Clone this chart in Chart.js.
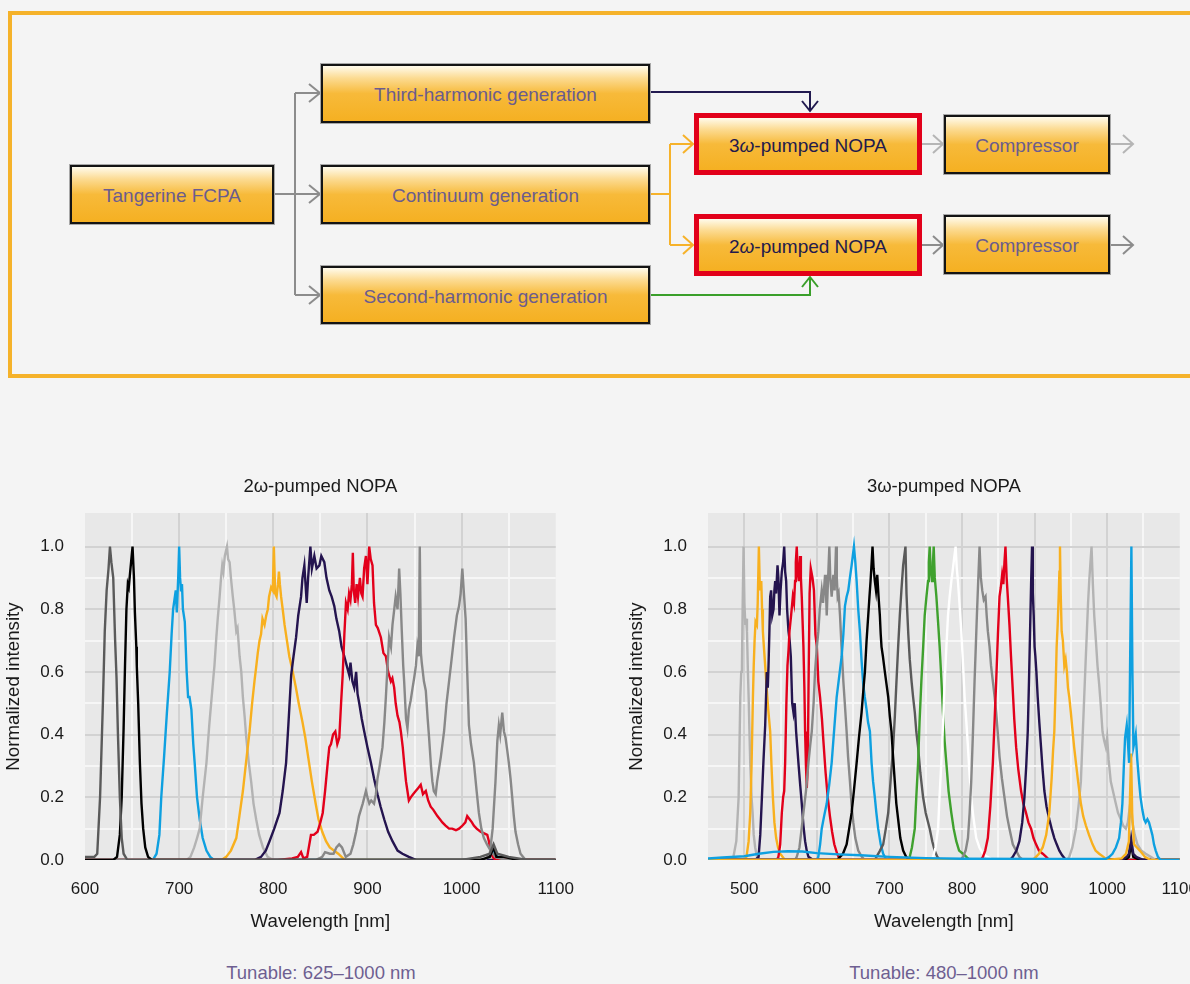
<!DOCTYPE html>
<html>
<head>
<meta charset="utf-8">
<script src="https://cdn.jsdelivr.net/npm/chart.js@4/dist/chart.umd.min.js"></script>
<style>
html, body { margin: 0; padding: 0; width: 1190px; height: 984px; overflow: hidden; background: #f4f4f4; }
body { position: relative; font-family: "Liberation Sans", Arial, sans-serif; }
#frame { position: absolute; left: 8px; top: 11px; width: 1260px; height: 367px; box-sizing: border-box; border: 4px solid #f5b22a; }
.box { position: absolute; box-sizing: border-box; border: 2px solid #141414; box-shadow: 0 0 0 1px #a8a8a8;
  background: linear-gradient(to bottom, #fffbec 0%, #fcdb92 22%, #f7ba3a 50%, #f5b022 100%);
  display: flex; align-items: center; justify-content: center; padding-top: 3px; font-size: 19px; color: #6b5c8e; }
.box.red { border: 5px solid #e2001a; box-shadow: none; color: #231a4d; }
#diagram { position: absolute; left: 0; top: 0; }
canvas { position: absolute; }
.tunable { position: absolute; top: 962px; width: 300px; text-align: center; font-size: 18.5px; color: #6e5f91; }
</style>
</head>
<body>
<div id="frame"></div>
<svg id="diagram" width="1190" height="400">
  <g fill="none" stroke-width="2">
    <g stroke="#8c8c8c">
      <polyline points="274,194 295,194"/>
      <polyline points="295,93 295,295"/>
      <polyline points="295,93 320,93"/><polyline points="309,84 320,93 309,102"/>
      <polyline points="295,194 320,194"/><polyline points="309,185 320,194 309,203"/>
      <polyline points="295,295 320,295"/><polyline points="309,286 320,295 309,304"/>
      <polyline points="922,245 943,245"/><polyline points="933,236 943,245 933,254"/>
      <polyline points="1110,245 1133,245"/><polyline points="1123,236 1133,245 1123,254"/>
    </g>
    <g stroke="#b5b5b5">
      <polyline points="922,144 943,144"/><polyline points="933,135 943,144 933,153"/>
      <polyline points="1110,144 1133,144"/><polyline points="1123,135 1133,144 1123,153"/>
    </g>
    <g stroke="#221a50">
      <polyline points="650,92 810,92 810,111"/><polyline points="802,101 810,111 818,101"/>
    </g>
    <g stroke="#f6b22a">
      <polyline points="650,194 670,194"/>
      <polyline points="670,144 670,245"/>
      <polyline points="670,144 693,144"/><polyline points="683,135 693,144 683,153"/>
      <polyline points="670,245 693,245"/><polyline points="683,236 693,245 683,254"/>
    </g>
    <g stroke="#3a9f2a">
      <polyline points="650,295 810,295 810,277"/><polyline points="802,287 810,277 818,287"/>
    </g>
  </g>
</svg>
<div class="box" style="left:70px;top:165px;width:204px;height:59px;">Tangerine FCPA</div>
<div class="box" style="left:321px;top:64px;width:329px;height:59px;">Third-harmonic generation</div>
<div class="box" style="left:321px;top:165px;width:329px;height:59px;">Continuum generation</div>
<div class="box" style="left:321px;top:266px;width:329px;height:58px;">Second-harmonic generation</div>
<div class="box red" style="left:694px;top:113px;width:228px;height:62px;">3<i>ω</i>-pumped NOPA</div>
<div class="box red" style="left:694px;top:214px;width:228px;height:62px;">2<i>ω</i>-pumped NOPA</div>
<div class="box" style="left:944px;top:115px;width:166px;height:59px;">Compressor</div>
<div class="box" style="left:944px;top:215px;width:166px;height:59px;">Compressor</div>

<canvas id="chart2w" width="593" height="470" style="left:0px;top:470px;"></canvas>
<canvas id="chart3w" width="594" height="470" style="left:623px;top:470px;"></canvas>
<div class="tunable" style="left:171px;">Tunable: 625–1000 nm</div>
<div class="tunable" style="left:794px;">Tunable: 480–1000 nm</div>

<script>
// 2w-pumped NOPA spectra, [wavelength nm, normalized intensity]
const s2w_626 = [[600,0.01],[610,0.01],[613,0.02],[616,0.2],[619,0.5],[621,0.73],[623,0.86],[625,0.93],[626.5,1.0],[628,0.95],[630,0.9],[632,0.7],[633.5,0.58],[635,0.4],[637,0.2],[639,0.07],[641,0.02],[645,0],[1000,0],[1020,0.01],[1030,0.02],[1034,0.05],[1038,0.02],[1050,0.01],[1070,0],[1100,0]];
const s2w_650 = [[600,0],[630,0],[634,0.01],[637,0.08],[639,0.2],[641,0.42],[642.5,0.62],[644,0.8],[645.5,0.88],[646.5,0.87],[648,0.92],[650.5,1.0],[652,0.9],[653,0.79],[654.5,0.68],[655,0.62],[656.5,0.5],[658.3,0.31],[660,0.18],[661.8,0.1],[664,0.04],[667,0.01],[671,0],[1020,0],[1030,0.01],[1034,0.04],[1037,0.01],[1045,0.01],[1060,0],[1100,0]];
const s2w_700 = [[600,0],[672,0],[676,0.02],[679,0.08],[681,0.2],[684,0.33],[687,0.47],[690,0.6],[692,0.72],[693.6,0.8],[695,0.83],[696.4,0.86],[697.5,0.79],[699,0.9],[700,1.0],[701,0.9],[702,0.86],[703,0.88],[704,0.8],[706,0.76],[708,0.6],[709.5,0.52],[711,0.52],[713,0.48],[715,0.37],[716.5,0.31],[719,0.2],[721.8,0.13],[725,0.07],[729,0.03],[733,0.01],[737,0],[1025,0],[1030,0.01],[1034,0.03],[1038,0.01],[1045,0],[1100,0]];
const s2w_750 = [[600,0],[708,0],[712,0.01],[716,0.04],[719,0.07],[721.8,0.1],[725,0.2],[729,0.31],[732,0.43],[736,0.57],[737.5,0.62],[739.5,0.71],[741,0.77],[743,0.84],[744.5,0.9],[745.8,0.94],[747,0.92],[748.5,0.97],[750.8,1.0],[752,0.96],[753.6,0.95],[755,0.9],[757,0.84],[758.5,0.8],[760.7,0.73],[762,0.74],[764.2,0.65],[766,0.6],[767.7,0.52],[769.5,0.46],[771.3,0.39],[774,0.31],[776.5,0.25],[779,0.18],[781.8,0.13],[785,0.08],[789,0.04],[794,0.01],[800,0],[1100,0]];
const s2w_800 = [[600,0],[745,0],[750,0.01],[755,0.03],[760.7,0.07],[764,0.14],[767.7,0.22],[771,0.31],[774.8,0.41],[777.5,0.5],[780,0.57],[782,0.62],[783.5,0.66],[785.4,0.7],[787,0.72],[788.5,0.77],[790.7,0.75],[792.5,0.78],[794.2,0.8],[795.5,0.84],[797.7,0.87],[799.5,0.86],[800.6,1.0],[802,0.85],[803.5,0.84],[805,0.88],[806,0.92],[807,0.88],[808.3,0.84],[810,0.8],[812,0.75],[814.5,0.7],[817,0.65],[820,0.61],[824,0.55],[827,0.5],[831,0.44],[834,0.39],[837,0.33],[841,0.25],[845,0.18],[848,0.13],[852,0.09],[856,0.06],[860,0.04],[869,0.02],[876,0],[1100,0]];
const s2w_840 = [[600,0],[780,0],[787,0.01],[792,0.03],[796,0.06],[801,0.1],[806.6,0.15],[810,0.22],[813.6,0.31],[816,0.43],[819,0.59],[821.5,0.65],[824.2,0.71],[826.5,0.78],[829.5,0.84],[831,0.9],[833,0.94],[835.5,0.82],[837,0.9],[839.4,1.0],[841,0.93],[843.6,0.97],[846,0.93],[849,0.94],[851,0.97],[854.2,0.95],[856.5,0.9],[859.5,0.86],[862,0.84],[864.8,0.81],[867,0.77],[870,0.73],[872.5,0.68],[875.4,0.65],[878,0.62],[880.7,0.59],[882,0.63],[884,0.57],[886,0.55],[888,0.6],[889.5,0.53],[891.3,0.5],[894,0.45],[896.6,0.41],[900,0.36],[903.7,0.31],[907,0.26],[910.7,0.21],[914,0.17],[917.8,0.13],[922,0.09],[926.6,0.06],[932,0.03],[937.2,0.02],[944,0.01],[952,0],[1100,0]];
const s2w_900 = [[600,0],[805,0],[820,0.005],[826,0.01],[829.5,0.025],[832,0.005],[836,0.01],[840,0.08],[843,0.08],[847,0.09],[850,0.12],[852.5,0.15],[855,0.22],[857.8,0.31],[859.5,0.36],[861.3,0.37],[863.5,0.4],[865.9,0.41],[868,0.37],[870.1,0.39],[872,0.5],[873.7,0.59],[875.5,0.72],[877.2,0.82],[879,0.8],[880.5,0.85],[882,0.83],[883.5,0.88],[884.5,0.98],[885.5,0.86],[887,0.82],[888.5,0.88],[890,0.84],[892,0.9],[893.5,0.85],[894.8,0.84],[896.5,0.93],[898.4,0.97],[900,0.88],[901.9,1.0],[903.5,0.96],[905.4,0.94],[907,0.82],[909,0.75],[911,0.74],[914.3,0.71],[917,0.66],[919.6,0.65],[922,0.6],[924.9,0.57],[926.5,0.58],[928.4,0.55],[930,0.5],[932,0.46],[934,0.44],[935.5,0.41],[937.5,0.36],[939,0.31],[941,0.25],[942.5,0.22],[944,0.19],[946,0.2],[948.5,0.21],[951.3,0.22],[954,0.23],[956.6,0.24],[959,0.21],[962,0.22],[964.5,0.19],[967.2,0.17],[970,0.16],[974.3,0.14],[977,0.13],[979.6,0.12],[983,0.11],[986.7,0.1],[990,0.1],[994,0.095],[997.3,0.1],[1001,0.11],[1004,0.12],[1006,0.14],[1008.5,0.13],[1011,0.12],[1013,0.11],[1016,0.1],[1020.2,0.09],[1024,0.085],[1027.3,0.08],[1029,0.06],[1030.8,0.03],[1033,0.01],[1036,0],[1100,0]];
const s2w_955 = [[600,0],[845,0],[852,0.01],[855,0.025],[860,0.02],[864,0.02],[867,0.04],[870,0.05],[873,0.04],[877,0.01],[882,0.02],[885,0.05],[888,0.09],[891,0.14],[895,0.18],[898.4,0.22],[900,0.2],[902,0.18],[904,0.19],[907,0.18],[909,0.21],[910.7,0.26],[913,0.3],[916,0.36],[918,0.44],[919.6,0.52],[921,0.6],[923,0.71],[925,0.68],[926.6,0.75],[928.5,0.8],[930,0.84],[932,0.8],[933.7,0.93],[935,0.85],[936.5,0.73],[938,0.62],[939,0.57],[941,0.45],[942.5,0.42],[944,0.48],[946,0.51],[948,0.55],[949.6,0.58],[951.5,0.62],[953,0.68],[954.5,0.65],[955.6,1.0],[956.8,0.66],[957.7,0.63],[960,0.57],[962,0.54],[964,0.45],[965.5,0.39],[967.5,0.3],[969,0.25],[970.5,0.22],[972.5,0.21],[974,0.25],[976,0.29],[978,0.33],[981.4,0.41],[984,0.5],[986.7,0.57],[989,0.63],[992,0.71],[995,0.78],[997.3,0.81],[999,0.85],[1000.8,0.93],[1002.5,0.85],[1004.3,0.77],[1006,0.6],[1007.8,0.43],[1010,0.37],[1013.1,0.31],[1016,0.22],[1018.4,0.15],[1021,0.1],[1023.7,0.07],[1027,0.05],[1030.8,0.03],[1036,0.01],[1046,0],[1100,0]];
const s2w_1043 = [[600,0],[1025,0],[1030,0.02],[1033,0.1],[1036,0.25],[1038,0.38],[1039.6,0.43],[1041,0.4],[1043.2,0.47],[1045,0.41],[1046.7,0.39],[1048.5,0.35],[1050.2,0.31],[1052,0.26],[1053.8,0.2],[1055.5,0.14],[1057.3,0.09],[1060,0.05],[1062.6,0.02],[1068,0],[1100,0]];

// 3w-pumped NOPA spectra
const s3w_499 = [[450,0],[480,0],[485,0.01],[489,0.06],[492.2,0.2],[493.5,0.38],[494.5,0.52],[495.8,0.6],[496.8,0.62],[497.8,0.82],[499,1.0],[500.2,0.82],[501.4,0.75],[502.5,0.77],[503.7,0.73],[505,0.6],[506,0.52],[507,0.42],[508.2,0.31],[510,0.2],[511.5,0.15],[513,0.08],[515,0.04],[517,0.015],[520,0],[1100,0]];
const s3w_520 = [[450,0],[500,0],[503,0.01],[506,0.06],[508.2,0.15],[510,0.3],[511.9,0.52],[513,0.62],[514.2,0.7],[515.5,0.76],[517.4,0.75],[518.5,0.82],[520.1,1.0],[521.5,0.86],[523.4,0.89],[524.5,0.8],[525.6,0.73],[527,0.68],[528.8,0.62],[531.1,0.54],[533,0.48],[535.7,0.41],[537.5,0.3],[539.4,0.2],[541.5,0.12],[543.9,0.07],[546.5,0.04],[549.5,0.02],[556,0],[1100,0]];
const s3w_555 = [[450,0],[515,0],[519.7,0.01],[522,0.08],[524.3,0.2],[526.5,0.32],[528.8,0.43],[531,0.6],[532.4,0.55],[533.4,0.62],[534.5,0.72],[535.7,0.84],[537,0.86],[538.5,0.78],[540.3,0.8],[541.5,0.86],[542.6,0.89],[543.8,0.85],[545.8,0.94],[547,0.9],[548.5,0.78],[550,0.86],[551.7,0.92],[553.5,0.95],[555,1.0],[556.3,0.92],[557.7,0.89],[559,0.8],[560.9,0.73],[562.5,0.7],[564.1,0.65],[566,0.5],[567.8,0.47],[569.5,0.5],[571.4,0.41],[573,0.36],[574.6,0.31],[577,0.24],[579.2,0.18],[581.5,0.11],[583.8,0.06],[586,0.03],[588.4,0.01],[595,0],[1100,0]];
const s3w_572 = [[450,0],[545,0],[547,0.01],[549.5,0.05],[551.7,0.15],[553.5,0.2],[555,0.22],[556.3,0.31],[558,0.5],[559.5,0.62],[561,0.67],[562.3,0.73],[564.5,0.78],[566.9,0.84],[568.5,0.82],[570,0.89],[571,0.95],[572.3,1.0],[573.5,0.92],[575.1,0.89],[576.9,0.97],[578,0.9],[579.2,0.84],[580.5,0.75],[581.5,0.68],[582.8,0.55],[583.8,0.41],[585,0.3],[586.1,0.23],[587.5,0.3],[588.5,0.55],[590,0.85],[591.6,0.93],[594,0.9],[596,0.86],[598,0.72],[600,0.68],[602,0.57],[604.4,0.52],[607,0.45],[609,0.38],[612,0.28],[615,0.2],[618,0.14],[621,0.09],[624,0.05],[628,0.02],[632,0],[1100,0]];
const s3w_625 = [[450,0],[570,0],[572.3,0.01],[576,0.04],[579,0.1],[581.5,0.15],[585,0.22],[588.4,0.31],[591,0.37],[593,0.41],[595.5,0.5],[597.5,0.6],[600,0.68],[602.1,0.73],[604,0.8],[606.7,0.86],[608.5,0.82],[611.3,0.91],[612.5,0.86],[613.6,0.78],[615.5,0.9],[617.2,1.0],[618.5,0.9],[620.4,0.84],[622.7,0.91],[624.5,0.86],[626.4,1.0],[627.5,0.9],[628.7,0.84],[630,0.85],[631.9,0.78],[634,0.68],[636.5,0.57],[638.5,0.5],[641,0.41],[643,0.33],[645.6,0.25],[648,0.17],[650.2,0.12],[653,0.07],[657,0.03],[662,0.01],[666,0],[1100,0]];
const s3w_651 = [[450,0],[600,0],[602,0.01],[604.5,0.05],[606.7,0.1],[610,0.14],[613.6,0.18],[617,0.24],[620.4,0.31],[624,0.42],[627.3,0.52],[630.5,0.58],[634.2,0.65],[636.5,0.72],[638.7,0.81],[641,0.84],[643.3,0.86],[645.5,0.9],[647.9,0.94],[649.5,0.97],[651.1,1.0],[653,0.95],[654.8,0.89],[657,0.8],[659.3,0.73],[661.5,0.64],[663.9,0.56],[666,0.52],[668.5,0.48],[670.5,0.44],[673.1,0.41],[675.4,0.31],[677.5,0.25],[679.9,0.2],[682,0.15],[684.5,0.1],[688,0.05],[691.4,0.02],[696,0],[1100,0]];
const s3w_677 = [[450,0],[628,0],[631.9,0.01],[636,0.02],[641,0.05],[644.5,0.1],[647.9,0.15],[651,0.22],[654.8,0.31],[658,0.39],[661.6,0.47],[664,0.54],[666.2,0.6],[668.5,0.7],[670.8,0.78],[672.5,0.84],[674,0.89],[675.5,0.95],[676.7,1.0],[678.2,0.93],[679.9,0.89],[681.5,0.86],[683.2,0.91],[685,0.84],[686.8,0.78],[688,0.72],[689.1,0.68],[691,0.65],[693.7,0.6],[696,0.56],[698.3,0.52],[700.5,0.46],[702.8,0.41],[705,0.33],[707.4,0.25],[709.5,0.18],[712,0.13],[715,0.07],[718.9,0.03],[723,0.01],[728,0],[1025,0],[1030,0.01],[1033,0.05],[1036,0.01],[1045,0],[1100,0]];
const s3w_722 = [[450,0],[680,0],[682.2,0.01],[687,0.03],[691.4,0.05],[695,0.1],[698.3,0.15],[701.5,0.25],[705.1,0.36],[707.5,0.46],[709.7,0.57],[712,0.68],[714.3,0.78],[716.5,0.86],[718.9,0.94],[720.5,0.97],[722.1,1.0],[723.5,0.85],[724.4,0.8],[726,0.72],[728,0.64],[730.5,0.57],[732.6,0.52],[735,0.47],[737,0.41],[739.5,0.36],[742.5,0.28],[746.4,0.2],[750,0.15],[755.5,0.1],[759,0.06],[762.4,0.03],[766,0.01],[770,0],[1100,0]];
const s3w_758 = [[450,0],[725,0],[728,0.01],[731,0.04],[734.9,0.1],[737,0.2],[739.5,0.31],[741.5,0.44],[744,0.57],[746.5,0.68],[748.6,0.78],[751,0.84],[753.2,0.89],[754.3,0.95],[755.5,1.0],[757,0.92],[758.7,0.89],[760,0.95],[761,1.0],[762.5,0.9],[764.7,0.84],[767,0.76],[769.2,0.68],[771.5,0.58],[773.8,0.47],[776,0.38],[778.4,0.31],[781.5,0.22],[785.3,0.15],[788.5,0.1],[792.1,0.06],[796,0.03],[801.3,0.02],[806,0.01],[810.5,0],[1100,0]];
const s3w_791 = [[450,0],[757,0],[760.1,0.01],[763.5,0.04],[767,0.1],[769,0.2],[771.5,0.31],[774,0.44],[776.1,0.57],[778.5,0.68],[780.7,0.78],[783,0.84],[785.3,0.89],[787,0.92],[789,0.96],[791.2,1.0],[792.8,0.93],[794.4,0.89],[796.5,0.82],[799,0.73],[801.5,0.62],[803.6,0.52],[806,0.44],[808.2,0.36],[810.5,0.27],[812.7,0.2],[815.5,0.14],[819.6,0.07],[824,0.04],[828.8,0.02],[835,0.01],[842.5,0],[1100,0]];
const s3w_824 = [[450,0],[798,0],[801.3,0.01],[805,0.03],[808.2,0.07],[810.5,0.15],[812.7,0.25],[815,0.4],[817.3,0.57],[819,0.68],[820.5,0.78],[822.5,0.9],[824.2,1.0],[826,0.9],[827.9,0.86],[830,0.83],[832.4,0.84],[834,0.78],[835.6,0.73],[838,0.68],[840,0.62],[842.5,0.57],[845,0.52],[847.1,0.47],[849.5,0.4],[851.7,0.33],[855,0.26],[858.5,0.2],[862,0.14],[865.4,0.1],[870,0.05],[874.6,0.03],[879,0.01],[884,0],[1100,0]];
const s3w_860 = [[450,0],[826,0],[828.8,0.01],[832,0.03],[835.6,0.07],[839,0.17],[842.5,0.31],[845,0.45],[847.1,0.57],[849.5,0.72],[851.7,0.84],[853.5,0.87],[855.3,0.91],[857,0.88],[858.5,0.95],[859.9,1.0],[861.5,0.9],[863.1,0.84],[865.4,0.75],[867.5,0.65],[870,0.54],[872,0.45],[874.6,0.36],[877.5,0.29],[881.4,0.22],[884.5,0.18],[888.3,0.15],[891.5,0.12],[895.2,0.1],[898.5,0.07],[902,0.05],[906,0.03],[911.2,0.02],[916,0.01],[920.3,0],[1100,0]];
const s3w_897 = [[450,0],[866,0],[870,0.01],[875,0.03],[879.1,0.06],[883,0.12],[886,0.2],[888.5,0.3],[890.6,0.41],[892.3,0.57],[893.8,0.73],[895.2,0.88],[896.5,1.0],[897.6,0.85],[898.8,0.78],[900,0.68],[901.1,0.65],[902.5,0.6],[904.3,0.52],[906.5,0.44],[908.9,0.36],[911,0.29],[913.5,0.22],[916.5,0.17],[920.3,0.13],[923.5,0.1],[927.2,0.07],[930.5,0.05],[934.1,0.03],[938,0.015],[943.2,0],[1020,0],[1027,0.01],[1030,0.02],[1033,0.07],[1036,0.02],[1040,0.01],[1050,0],[1100,0]];
const s3w_935 = [[450,0],[895,0],[900,0.005],[906,0.02],[911.2,0.04],[916,0.08],[920.3,0.15],[923.5,0.26],[925.5,0.35],[927.2,0.41],[929,0.55],[930.4,0.68],[931.8,0.75],[933.2,0.84],[934.2,0.92],[935,1.0],[936,0.85],[937.3,0.73],[939,0.7],[941,0.62],[942.8,0.64],[944.6,0.6],[946,0.55],[947.8,0.52],[950,0.47],[952.4,0.41],[954.5,0.36],[957,0.31],[960,0.25],[963.8,0.18],[967,0.14],[970.7,0.11],[975,0.08],[979.9,0.05],[984,0.03],[989,0.02],[995,0.01],[1000,0],[1020,0.005],[1026,0.02],[1030,0.06],[1033,0.34],[1034.5,0.15],[1037,0.05],[1041,0.04],[1045,0.03],[1052,0.01],[1060,0],[1100,0]];
const s3w_978 = [[450,0],[945,0],[947.8,0.01],[952,0.04],[957,0.1],[960.5,0.17],[963.8,0.25],[966,0.38],[968.4,0.52],[970.3,0.63],[972.1,0.73],[973.7,0.82],[975.3,0.89],[977,0.95],[978.5,1.0],[980.3,0.88],[982.2,0.78],[984.5,0.7],[986.7,0.62],[989,0.56],[991,0.5],[993.6,0.41],[996,0.38],[998.2,0.36],[1000,0.39],[1002,0.32],[1005,0.25],[1008,0.22],[1011.9,0.18],[1015,0.15],[1018.8,0.13],[1022,0.11],[1025.7,0.1],[1028.5,0.12],[1031.2,0.17],[1033,0.14],[1034.8,0.12],[1038,0.08],[1041.7,0.05],[1047,0.03],[1053.1,0.02],[1060,0.01],[1067,0],[1100,0]];
const s3w_1033 = [[450,0.005],[470,0.008],[500,0.012],[520,0.02],[540,0.026],[560,0.028],[580,0.027],[600,0.022],[630,0.018],[660,0.015],[700,0.01],[750,0.006],[800,0.004],[900,0.003],[998,0.003],[1003,0.01],[1007.3,0.02],[1012,0.04],[1016.5,0.07],[1019,0.12],[1021,0.18],[1023,0.3],[1024.7,0.39],[1027,0.43],[1028.5,0.38],[1030.2,0.31],[1031.5,0.6],[1033.4,1.0],[1034.8,0.6],[1036.2,0.36],[1038,0.38],[1039.4,0.4],[1041.5,0.32],[1044,0.25],[1046,0.2],[1048.5,0.16],[1051,0.13],[1053.1,0.12],[1055.5,0.13],[1057.7,0.12],[1060,0.1],[1062.3,0.08],[1064.5,0.05],[1066.9,0.03],[1070,0.01],[1073.7,0],[1100,0]];

const yMax = 1.107;
const range2w = [600, 1100];
const range3w = [450, 1100];

const DARK = '#5a5a5a', BLACK = '#000000', BLUE = '#0ea0e0', LIGHT = '#b3b3b3', ORANGE = '#f8b01e',
      NAVY = '#24144f', RED = '#e3001b', GREY = '#888888', GREEN = '#3fa12e', WHITE = '#ffffff';

// first entry is drawn on top
const series2w = [
  [s2w_626, DARK], [s2w_650, BLACK], [s2w_1043, GREY], [s2w_955, GREY], [s2w_900, RED],
  [s2w_840, NAVY], [s2w_800, ORANGE], [s2w_750, LIGHT], [s2w_700, BLUE]
];
const series3w = [
  [s3w_1033, BLUE], [s3w_935, ORANGE], [s3w_978, LIGHT], [s3w_897, NAVY], [s3w_677, BLACK],
  [s3w_860, RED], [s3w_824, GREY], [s3w_791, WHITE], [s3w_758, GREEN], [s3w_722, DARK],
  [s3w_651, BLUE], [s3w_625, GREY], [s3w_572, RED], [s3w_555, NAVY], [s3w_520, ORANGE], [s3w_499, LIGHT]
];

Chart.defaults.font.family = '"Liberation Sans", Arial, Helvetica, sans-serif';
Chart.defaults.color = '#1a1a1a';

const plotBg = {
  id: 'plotBg',
  beforeDraw(chart) {
    const a = chart.chartArea, ctx = chart.ctx;
    ctx.save();
    ctx.fillStyle = '#e8e8e8';
    ctx.fillRect(a.left, a.top, a.right - a.left, a.bottom - a.top);
    ctx.restore();
  }
};

function makeChart(id, title, series, range) {
  const datasets = series.map(function (s) {
    return {
      data: s[0].map(p => ({ x: p[0], y: p[1] })),
      borderColor: s[1],
      borderWidth: 2.4,
      pointRadius: 0,
      tension: 0,
      fill: false
    };
  });
  return new Chart(document.getElementById(id), {
    type: 'line',
    data: { datasets: datasets },
    plugins: [plotBg],
    options: {
      responsive: false,
      animation: false,
      devicePixelRatio: 1,
      layout: { padding: { left: 0, right: 33, top: 0, bottom: 0 } },
      plugins: {
        legend: { display: false },
        tooltip: { enabled: false },
        title: {
          display: true,
          fullSize: false,
          text: title,
          font: { size: 18.5, weight: 'normal' },
          color: '#1a1a1a',
          padding: { top: 5.9, bottom: 14.9 }
        }
      },
      scales: {
        x: {
          type: 'linear',
          min: range[0],
          max: range[1],
          afterFit: function (scale) { scale.height = 80; },
          border: { display: false },
          grid: {
            drawTicks: false,
            lineWidth: 2,
            color: function (ctx) {
              const v = ctx.tick.value;
              if (v === range[0] || v === range[1]) return 'rgba(0,0,0,0)';
              return v % 100 === 0 ? '#d2d2d2' : '#f6f6f6';
            }
          },
          ticks: {
            stepSize: 50,
            autoSkip: false,
            maxRotation: 0,
            padding: 19,
            font: { size: 17 },
            color: '#1a1a1a',
            callback: function (v) { return v % 100 === 0 ? String(v) : ''; }
          },
          title: {
            display: true,
            text: 'Wavelength [nm]',
            font: { size: 18.7 },
            color: '#1a1a1a',
            padding: { top: 0, bottom: 6.8 }
          }
        },
        y: {
          min: 0,
          max: yMax,
          afterFit: function (scale) { scale.width = 85; },
          border: { display: false },
          grid: {
            drawTicks: false,
            lineWidth: 2,
            color: function (ctx) {
              const r = Math.round(ctx.tick.value * 10);
              if (r === 0 || r >= 11) return 'rgba(0,0,0,0)';
              return r % 2 === 0 ? '#d2d2d2' : '#f6f6f6';
            }
          },
          ticks: {
            stepSize: 0.1,
            autoSkip: false,
            padding: 21,
            font: { size: 17 },
            color: '#1a1a1a',
            callback: function (v) {
              const r = Math.round(v * 10);
              return (r % 2 === 0 && r <= 10) ? (r / 10).toFixed(1) : '';
            }
          },
          title: {
            display: true,
            text: 'Normalized intensity',
            font: { size: 18.7 },
            color: '#1a1a1a',
            padding: { top: 3, bottom: 0 }
          }
        }
      }
    }
  });
}

makeChart('chart2w', '2ω-pumped NOPA', series2w, range2w);
makeChart('chart3w', '3ω-pumped NOPA', series3w, range3w);
</script>
</body>
</html>
